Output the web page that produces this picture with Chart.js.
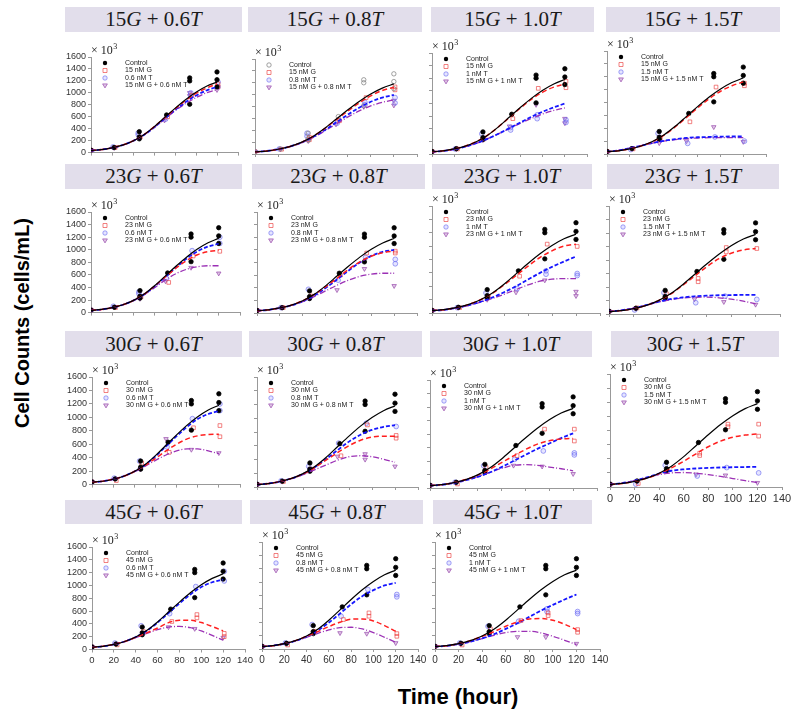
<!doctype html>
<html lang="en">
<head>
<meta charset="utf-8">
<title>Cell counts vs time</title>
<script src="https://cdn.jsdelivr.net/npm/chart.js@4.4.0/dist/chart.umd.min.js"></script>
<style>
  body { margin: 0; width: 800px; height: 717px; position: relative; background: #fff; overflow: hidden; font-family: Arial, "Liberation Sans", sans-serif; }
  .hdr { position: absolute; background: #e2deeb; font-family: "Liberation Serif", serif; font-size: 21px; color: #1a1a1a;
         display: flex; align-items: center; justify-content: center; white-space: nowrap; }
  canvas { position: absolute; }
  #ytitle { position: absolute; left: -128px; top: 311px; width: 300px; height: 24px; line-height: 24px; text-align: center;
            font-weight: bold; font-size: 20px; color: #000; transform: rotate(-90deg); }
  #xtitle { position: absolute; left: 358px; top: 684px; width: 200px; line-height: 26px; text-align: center;
            font-weight: bold; font-size: 22px; color: #000; }
</style>
</head>
<body>
<div id="ytitle">Cell Counts (cells/mL)</div>
<div id="xtitle">Time (hour)</div>
<script>
// panel doses, row by row
var panelG = [15, 15, 15, 15, 23, 23, 23, 23, 30, 30, 30, 30, 45, 45, 45];
var panelT = ['0.6', '0.8', '1.0', '1.5', '0.6', '0.8', '1.0', '1.5', '0.6', '0.8', '1.0', '1.5', '0.6', '0.8', '1.0'];

// axes
var xTicks = [0, 20, 40, 60, 80, 100, 120, 140];
var yTicks = [0, 200, 400, 600, 800, 1000, 1200, 1400, 1600];

// fitted curves, read every 10 h
var curveTimes = [0, 10, 20, 30, 40, 50, 60, 70, 80, 90, 100, 110, 120];
var controlCurve = [35, 50, 80, 125, 195, 295, 430, 585, 740, 885, 1010, 1110, 1180];
var gCurve = [
  [35, 50, 80, 125, 195, 295, 430, 580, 730, 870, 990, 1080, 1150],
  [35, 50, 80, 125, 195, 295, 425, 575, 720, 860, 980, 1070, 1125],
  [35, 50, 80, 125, 195, 295, 430, 580, 730, 870, 980, 1060, 1110],
  [35, 50, 80, 125, 190, 290, 420, 570, 720, 860, 975, 1060, 1120],
  [35, 50, 80, 125, 195, 295, 425, 570, 710, 830, 920, 970, 990],
  [35, 50, 80, 125, 195, 290, 415, 550, 690, 810, 900, 955, 980],
  [35, 50, 80, 125, 195, 290, 420, 560, 700, 830, 930, 1000, 1030],
  [35, 50, 80, 125, 195, 290, 420, 560, 700, 820, 900, 950, 970],
  [35, 50, 80, 125, 195, 285, 390, 500, 600, 680, 725, 745, 750],
  [35, 50, 80, 125, 190, 280, 390, 500, 600, 680, 725, 740, 740],
  [35, 50, 80, 125, 190, 275, 375, 475, 570, 650, 700, 725, 735],
  [35, 50, 80, 125, 190, 270, 365, 470, 570, 650, 705, 735, 750],
  [35, 50, 80, 125, 190, 260, 335, 420, 455, 455, 420, 360, 290],
  [35, 50, 80, 125, 190, 260, 335, 400, 445, 450, 420, 350, 265],
  [35, 50, 80, 125, 190, 260, 340, 405, 450, 455, 430, 370, 290]
];
var tCurve = [
  [35, 50, 80, 125, 195, 290, 420, 570, 715, 845, 955, 1040, 1100],
  [35, 50, 80, 125, 190, 285, 400, 530, 660, 780, 880, 950, 995],
  [35, 48, 75, 115, 170, 240, 320, 410, 500, 590, 670, 740, 800],
  [35, 55, 90, 130, 170, 205, 230, 250, 260, 265, 270, 272, 272],
  [35, 50, 80, 125, 195, 290, 420, 570, 720, 860, 975, 1050, 1095],
  [35, 50, 80, 120, 185, 275, 395, 530, 670, 800, 905, 970, 1000],
  [35, 48, 75, 115, 165, 230, 310, 400, 500, 600, 690, 770, 845],
  [35, 55, 85, 130, 180, 220, 245, 262, 272, 278, 281, 282, 282],
  [35, 50, 80, 125, 195, 290, 420, 570, 720, 860, 975, 1050, 1095],
  [35, 50, 80, 125, 190, 285, 405, 535, 660, 760, 830, 875, 900],
  [35, 48, 75, 115, 165, 230, 310, 400, 490, 580, 660, 740, 810],
  [35, 55, 90, 135, 190, 230, 250, 262, 270, 276, 280, 283, 285],
  [35, 50, 80, 125, 195, 290, 420, 570, 720, 860, 975, 1050, 1090],
  [35, 50, 80, 120, 185, 275, 395, 530, 670, 790, 880, 950, 990],
  [35, 48, 75, 110, 160, 220, 300, 385, 480, 575, 660, 740, 815]
];
var gtCurve = [
  [35, 50, 80, 125, 195, 290, 420, 560, 700, 820, 920, 1000, 1050],
  [35, 50, 80, 120, 185, 275, 385, 505, 620, 725, 810, 870, 910],
  [35, 48, 75, 115, 170, 240, 320, 405, 490, 565, 635, 690, 730],
  [35, 55, 90, 130, 168, 200, 222, 238, 248, 253, 255, 255, 255],
  [35, 50, 80, 125, 190, 285, 400, 520, 620, 690, 730, 745, 745],
  [35, 50, 80, 120, 180, 260, 350, 440, 520, 580, 615, 630, 630],
  [35, 48, 75, 110, 160, 215, 280, 350, 420, 475, 505, 515, 515],
  [35, 55, 85, 128, 175, 210, 235, 248, 250, 240, 220, 190, 150],
  [35, 50, 80, 125, 190, 270, 360, 440, 500, 530, 530, 500, 460],
  [35, 50, 80, 120, 180, 250, 320, 390, 440, 455, 440, 405, 360],
  [35, 50, 80, 120, 170, 230, 290, 335, 345, 335, 310, 285, 255],
  [35, 55, 90, 130, 175, 200, 205, 195, 175, 150, 120, 90, 62],
  [35, 50, 80, 125, 185, 250, 310, 350, 360, 340, 290, 220, 145],
  [35, 50, 80, 120, 175, 235, 285, 320, 325, 300, 245, 175, 100],
  [35, 48, 75, 110, 155, 205, 245, 265, 265, 240, 190, 130, 65]
];

// measured counts (replicates per sampling time)
var controlTimes = [0, 22, 46, 72, 94, 120];
var gTimes = [0, 23, 47, 73, 96, 121];
var tTimes = [0, 21, 45, 71, 95, 121];
var gtTimes = [0, 22, 46, 70, 94, 120];
var controlPts = [[40], [85], [230, 260, 350], [630], [810, 1200, 1250], [1100, 1220, 1350]];
var openControl = [false, true, false, false, false, false, false, false, false, false, false, false, false, false, false];
var gPts = [
  [[40], [85], [260], [600], [960], [1150, 1100]],
  [[40], [80], [280, 240], [560], [950], [1130, 1080]],
  [[40], [80], [240], [560], [1040], [1150, 1050]],
  [[40], [80], [250], [500], [1040], [1100, 1060]],
  [[40], [80], [250], [480], [900], [975]],
  [[40], [85], [270], [600], [950], [980, 950]],
  [[40], [80], [240], [550], [1030], [995]],
  [[40], [90], [300], [527, 478], [985, 920], [970]],
  [[40], [60], [320], [480], [845], [878, 712]],
  [[40], [80], [260], [454], [903], [710, 750]],
  [[40], [60], [304], [480], [872], [872, 696]],
  [[40], [50], [250], [479, 446], [890, 853], [890, 720]],
  [[40], [72], [280], [437], [545, 494], [252, 200]],
  [[40], [60], [265], [440], [540, 490], [190, 230]],
  [[40], [60], [300], [425], [540, 500], [290, 250]]
];
var tPts = [
  [[35], [95], [330, 300], [560], [960, 1000], [1180, 1100]],
  [[40], [85], [350, 300], [520], [870, 830], [950, 860]],
  [[35], [80], [320], [420, 380], [620, 560], [540, 500]],
  [[30], [70], [320], [165], [265], [200]],
  [[40], [100], [330, 300], [540], [985], [1200, 1100]],
  [[40], [85], [375], [520], [880], [850, 780]],
  [[35], [80], [300], [365], [630, 580], [590, 560]],
  [[40], [60], [315], [167], [265], [216]],
  [[40], [95], [350], [560], [980], [1200, 1100]],
  [[40], [90], [300], [638], [927], [880]],
  [[40], [85], [330], [426], [549], [520, 490]],
  [[40], [40], [308], [156], [275], [200]],
  [[40], [100], [370], [560], [982], [1220, 1070]],
  [[40], [90], [365], [490], [890], [815, 780]],
  [[40], [90], [340], [415], [600, 560], [560, 530]]
];
var gtPts = [
  [[40], [80], [250], [540], [1000, 950], [1050]],
  [[35], [80], [220], [500], [800], [900, 820]],
  [[40], [80], [220], [440], [780], [560, 490]],
  [[40], [80], [170], [200], [420], [190]],
  [[40], [90], [220], [500], [715], [625]],
  [[40], [85], [230], [365], [700], [430]],
  [[40], [80], [200], [310], [490], [320, 256]],
  [[40], [80], [230], [220], [180], [140]],
  [[40], [85], [230], [680], [520], [470]],
  [[40], [80], [260], [444], [480, 400], [300]],
  [[40], [80], [240], [333], [320], [210]],
  [[40], [80], [230], [180], [166], [60]],
  [[40], [90], [260], [350], [324], [185]],
  [[40], [80], [250], [240], [230], [90]],
  [[40], [75], [240], [180], [180], [80]]
];

// layout: plot x at t=0 / t=140, y at 1600 / 0, header box, tick labels shown, tick font
var panelBox = [
  { l: 91, r: 238, t: 57, b: 154, h: [65, 242, 7, 32], yl: true, xl: false },
  { l: 255, r: 417, t: 59, b: 154, h: [248, 422, 7, 32], yl: false, xl: false },
  { l: 432, r: 587, t: 53, b: 154, h: [431, 594, 7, 32], yl: false, xl: false },
  { l: 607, r: 766, t: 51, b: 154, h: [606, 780, 7, 32], yl: false, xl: false },
  { l: 91, r: 240, t: 212, b: 314, h: [65, 242, 164, 189], yl: true, xl: false },
  { l: 257, r: 417, t: 212, b: 313, h: [252, 425, 164, 189], yl: false, xl: false },
  { l: 432, r: 600, t: 206, b: 313, h: [432, 592, 164, 189], yl: false, xl: false },
  { l: 609, r: 780, t: 206, b: 314, h: [607, 779, 164, 189], yl: false, xl: false },
  { l: 92, r: 240, t: 377, b: 486, h: [65, 242, 331, 357], yl: true, xl: false },
  { l: 257, r: 418, t: 377, b: 487, h: [249, 422, 331, 357], yl: false, xl: false },
  { l: 430, r: 597, t: 380, b: 488, h: [430, 592, 331, 357], yl: false, xl: false },
  { l: 610, r: 782, t: 374, b: 487, h: [611, 779, 331, 357], yl: false, xl: true, fs: 11 },
  { l: 92, r: 245, t: 547, b: 650, h: [65, 242, 500, 524], yl: true, xl: true, fs: 9.5 },
  { l: 262, r: 418, t: 542, b: 649, h: [250, 423, 500, 524], yl: false, xl: true, fs: 10 },
  { l: 435, r: 600, t: 542, b: 649, h: [433, 592, 500, 524], yl: false, xl: true, fs: 10 }
];

var COL = {
  g: 'rgba(235,70,70,0.85)', gLine: '#ff1f1f',
  t: 'rgba(100,100,240,0.75)', tLine: '#1616ff',
  gt: 'rgba(150,70,170,0.85)', gtLine: '#9b30b5'
};

function pts(times, vals) {
  var out = [];
  vals.forEach(function(v, i) {
    v.forEach(function(y) { out.push({ x: times[i], y: y }); });
  });
  return out;
}
function curve(vals) {
  return vals.map(function(y, i) { return { x: curveTimes[i], y: y }; });
}

function drawMarker(ctx, kind, x, y, open) {
  ctx.save();
  ctx.lineWidth = 0.8;
  ctx.beginPath();
  if (kind == 'ctrl') {
    ctx.arc(x, y, 2.2, 0, Math.PI * 2);
    if (open) { ctx.strokeStyle = '#888'; ctx.stroke(); }
    else { ctx.fillStyle = '#000'; ctx.fill(); }
  } else if (kind == 'g') {
    ctx.strokeStyle = COL.g;
    ctx.rect(x - 2, y - 2, 4, 4);
    ctx.stroke();
  } else if (kind == 't') {
    ctx.strokeStyle = COL.t;
    ctx.fillStyle = 'rgba(150,150,255,0.25)';
    ctx.arc(x, y, 2.2, 0, Math.PI * 2);
    ctx.fill(); ctx.stroke();
  } else {
    ctx.strokeStyle = COL.gt;
    ctx.fillStyle = 'rgba(150,70,170,0.3)';
    ctx.moveTo(x - 2.4, y - 1.6); ctx.lineTo(x + 2.4, y - 1.6); ctx.lineTo(x, y + 2.4); ctx.closePath();
    ctx.fill(); ctx.stroke();
  }
  ctx.restore();
}

// legend inside the plot and the "x 10^3" mark
var panelDeco = {
  id: 'panelDeco',
  afterDraw: function(chart) {
    var o = chart.options.plugins.panelDeco;
    var a = chart.chartArea, ctx = chart.ctx;
    ctx.save();
    ctx.fillStyle = '#222';
    ctx.font = '12px "Liberation Serif", serif';
    ctx.textBaseline = 'alphabetic';
    var x0 = a.left, y0 = a.top - 3;
    ctx.fillText('\u00d7 10', x0, y0);
    var w = ctx.measureText('\u00d7 10').width;
    ctx.font = '8px "Liberation Serif", serif';
    ctx.fillText('3', x0 + w + 0.5, y0 - 5);

    ctx.font = '7px Arial, "Liberation Sans", sans-serif';
    ctx.textBaseline = 'middle';
    var kinds = ['ctrl', 'g', 't', 'gt'];
    o.labels.forEach(function(lab, i) {
      var yy = a.top + 6 + i * 7.5;
      drawMarker(ctx, kinds[i], a.left + 14, yy, o.openControl);
      ctx.fillStyle = '#222';
      ctx.fillText(lab, a.left + 34, yy);
    });
    ctx.restore();
  }
};

panelG.forEach(function(g, i) {
  var box = panelBox[i];
  var tLabel = String(parseFloat(panelT[i]));

  var hdr = document.createElement('div');
  hdr.className = 'hdr';
  hdr.style.left = box.h[0] + 'px';
  hdr.style.width = (box.h[1] - box.h[0]) + 'px';
  hdr.style.top = box.h[2] + 'px';
  hdr.style.height = (box.h[3] - box.h[2]) + 'px';
  hdr.innerHTML = g + '<i>G</i>&nbsp;+&nbsp;' + panelT[i] + '<i>T</i>';
  document.body.appendChild(hdr);

  var fs = box.fs || 9;
  var padL = box.yl ? 30 : 6, padR = 12, padT = 14, padB = box.xl ? fs + 8 : 6;
  var cv = document.createElement('canvas');
  cv.width = (box.r - box.l) + padL + padR;
  cv.height = (box.b - box.t) + padT + padB;
  cv.style.left = (box.l - padL) + 'px';
  cv.style.top = (box.t - padT) + 'px';
  document.body.appendChild(cv);

  var ctrlOpen = openControl[i];
  var lineDs = function(vals, color, dash, width) {
    return { type: 'line', data: curve(vals), borderColor: color, borderWidth: width, borderDash: dash,
             pointRadius: 0, fill: false, cubicInterpolationMode: 'monotone' };
  };
  var ptDs = function(data, style, border, bg, radius, rot) {
    return { type: 'scatter', data: data, pointStyle: style, borderColor: border, backgroundColor: bg,
             pointBorderWidth: 0.8, pointRadius: radius, pointRotation: rot || 0 };
  };

  new Chart(cv, {
    data: {
      datasets: [
        lineDs(controlCurve, '#000', [], 1.2),
        lineDs(gCurve[i], COL.gLine, [5, 3], 1.5),
        lineDs(tCurve[i], COL.tLine, [4, 2], 1.8),
        lineDs(gtCurve[i], COL.gtLine, [6, 2, 1, 2], 1.3),
        ptDs(pts(controlTimes, controlPts), 'circle', ctrlOpen ? '#888' : '#000', ctrlOpen ? 'rgba(0,0,0,0)' : '#000', 2.2),
        ptDs(pts(gTimes, gPts[i]), 'rect', COL.g, 'rgba(255,255,255,0)', 2.6),
        ptDs(pts(tTimes, tPts[i]), 'circle', COL.t, 'rgba(150,150,255,0.25)', 2.4),
        ptDs(pts(gtTimes, gtPts[i]), 'triangle', COL.gt, 'rgba(150,70,170,0.3)', 2.6, 180)
      ]
    },
    options: {
      responsive: false,
      animation: false,
      events: [],
      layout: { padding: { top: padT, right: padR, left: 0, bottom: 0 } },
      plugins: {
        legend: { display: false },
        tooltip: { enabled: false },
        panelDeco: {
          openControl: ctrlOpen,
          labels: ['Control', g + ' nM G', tLabel + ' nM T', g + ' nM G + ' + tLabel + ' nM T']
        }
      },
      scales: {
        x: {
          type: 'linear', min: xTicks[0], max: xTicks[xTicks.length - 1],
          afterBuildTicks: function(s) { s.ticks = xTicks.map(function(v) { return { value: v }; }); },
          afterFit: function(s) { s.height = padB; },
          border: { color: '#999', width: 1 },
          grid: { drawOnChartArea: false, drawTicks: true, tickLength: 3, color: '#999' },
          ticks: { display: box.xl, color: '#333', font: { size: fs, family: 'Arial' }, padding: 2, maxRotation: 0, autoSkip: false,
                   callback: function(v) { return String(v); } }
        },
        y: {
          type: 'linear', min: yTicks[0], max: yTicks[yTicks.length - 1],
          afterBuildTicks: function(s) { s.ticks = yTicks.map(function(v) { return { value: v }; }); },
          afterFit: function(s) { s.width = padL; },
          border: { color: '#999', width: 1 },
          grid: { drawOnChartArea: false, drawTicks: true, tickLength: 3, color: '#999' },
          ticks: { display: box.yl, color: '#333', font: { size: 9, family: 'Arial' }, padding: 2, autoSkip: false,
                   callback: function(v) { return String(v); } }
        }
      }
    },
    plugins: [panelDeco]
  });
});
</script>
</body>
</html>
